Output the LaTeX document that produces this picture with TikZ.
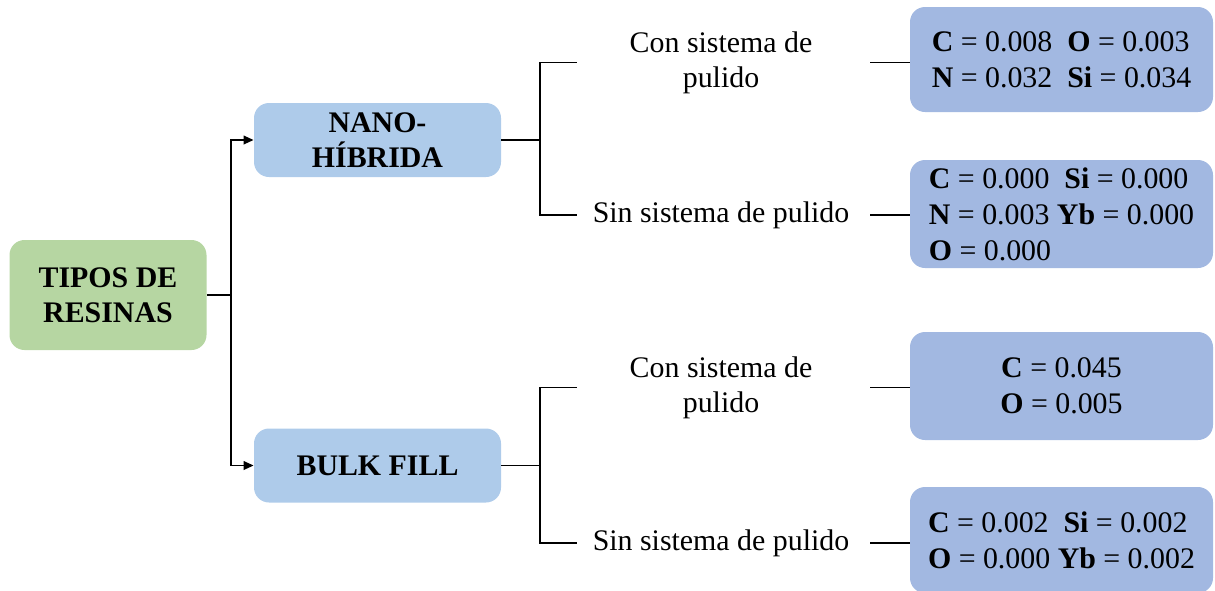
\documentclass[tikz,border=0pt]{standalone}
\usepackage{fontspec}
\setmainfont{Liberation Serif}
\usepackage{tikz}
\usetikzlibrary{arrows.meta}
\definecolor{rootgreen}{RGB}{182,214,162}
\definecolor{typeblue}{RGB}{174,203,234}
\definecolor{resblue}{RGB}{162,184,225}
\newcommand{\el}[1]{\textbf{#1}}

\begin{document}
\begin{tikzpicture}[
    font=\fontsize{17}{20}\selectfont,
    every node/.style={inner sep=0pt},
    rootbox/.style={fill=rootgreen,rounded corners=0.3cm,minimum width=3.94cm,minimum height=2.2cm,align=center,font=\fontsize{17}{20}\selectfont\bfseries},
    typebox/.style={fill=typeblue,rounded corners=0.3cm,minimum width=4.94cm,minimum height=1.48cm,align=center,font=\fontsize{17}{20}\selectfont\bfseries},
    resbox/.style={fill=resblue,rounded corners=0.3cm,minimum width=6.06cm,align=left,font=\fontsize{17}{20.5}\selectfont},
    link/.style={line width=1.1pt},
    arrowlink/.style={line width=1.1pt,-{Triangle[length=2mm,width=1.7mm]}}
  ]
      \useasboundingbox (0,0) rectangle (24.3,-11.8);

      \node[rootbox] (root) at (2.16,-5.9) {TIPOS DE\\RESINAS};
      \node[typebox] (nano) at (7.55,-2.8) {NANO-\\HÍBRIDA};
      \node[typebox] (bulk) at (7.55,-9.31) {BULK FILL};

      \node[align=center] (con1) at (14.42,-1.25) {Con sistema de\\pulido};
      \node (sin1) at (14.42,-4.3) {Sin sistema de pulido};
      \node[align=center] (con2) at (14.42,-7.75) {Con sistema de\\pulido};
      \node (sin2) at (14.42,-10.86) {Sin sistema de pulido};

      \node[resbox,minimum height=2.1cm] (r1) at (21.23,-1.19)
        {\el{C} = 0.008~~\el{O} = 0.003\\\el{N} = 0.032~~\el{Si} = 0.034};
      \node[resbox,minimum height=2.16cm] (r2) at (21.23,-4.28)
        {\el{C} = 0.000~~\el{Si} = 0.000\\\el{N} = 0.003 \el{Yb} = 0.000\\\el{O} = 0.000};
      \node[resbox,minimum height=2.16cm,align=center] (r3) at (21.23,-7.72)
        {\el{C} = 0.045\\\el{O} = 0.005};
      \node[resbox,minimum height=2.12cm] (r4) at (21.23,-10.8)
        {\el{C} = 0.002~~\el{Si} = 0.002\\\el{O} = 0.000 \el{Yb} = 0.002};

      \coordinate (j0) at (4.62,-5.9);
      \coordinate (j1) at (10.8,-2.8);
      \coordinate (j2) at (10.8,-9.31);
      \coordinate (a1) at (11.54,-1.25);
      \coordinate (b1) at (11.54,-4.3);
      \coordinate (a2) at (11.54,-7.75);
      \coordinate (b2) at (11.54,-10.86);
      \coordinate (c1) at (17.4,-1.25);
      \coordinate (d1) at (17.4,-4.3);
      \coordinate (c2) at (17.4,-7.75);
      \coordinate (d2) at (17.4,-10.86);

      \draw[link] (root) -- (j0);
      \draw[arrowlink] (j0) |- (nano);
      \draw[arrowlink] (j0) |- (bulk);

      \draw[link] (nano) -- (j1);
      \draw[link] (j1) |- (a1);
      \draw[link] (j1) |- (b1);
      \draw[link] (bulk) -- (j2);
      \draw[link] (j2) |- (a2);
      \draw[link] (j2) |- (b2);

      \draw[link] (c1) -- (c1 -| r1.west);
      \draw[link] (d1) -- (d1 -| r2.west);
      \draw[link] (c2) -- (c2 -| r3.west);
      \draw[link] (d2) -- (d2 -| r4.west);
\end{tikzpicture}
\end{document}
